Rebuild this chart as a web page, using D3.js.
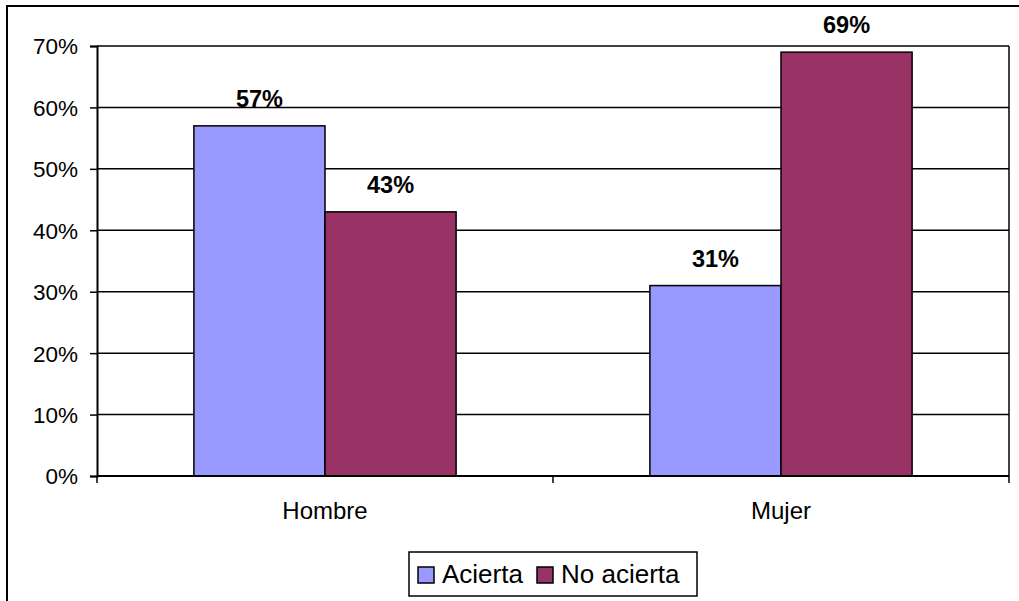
<!DOCTYPE html>
<html><head><meta charset="utf-8">
<script src="https://cdn.jsdelivr.net/npm/d3@7"></script>
<style>body{margin:0;background:#fff}svg{display:block;font-family:"Liberation Sans",Arial,sans-serif}</style>
</head><body>
<svg id="c" width="1019" height="601"></svg>
<script>
const categories = ["Hombre", "Mujer"];
const seriesNames = ["Acierta", "No acierta"];
const acierta = [57, 31];
const noAcierta = [43, 69];
const yTicks = [0, 10, 20, 30, 40, 50, 60, 70];
const colors = ["#9999FF", "#993366"];

const series = [acierta, noAcierta];
const svg = d3.select("#c");
const L = 97, R = 1009, T = 46, B = 476;

svg.append("rect").attr("x", 7).attr("y", 6).attr("width", 1030).attr("height", 620)
  .attr("fill", "#fff").attr("stroke", "#000").attr("stroke-width", 2);

const y = d3.scaleLinear().domain([0, 70]).range([B, T]);
const x0 = d3.scaleBand().domain(categories).range([L, R]).paddingInner(0).paddingOuter(0);
const groupW = x0.bandwidth() * 0.575;
const x1 = d3.scaleBand().domain(seriesNames).range([0, groupW]);

// gridlines
svg.append("g").selectAll("line").data(yTicks.filter(d => d > 0)).join("line")
  .attr("x1", L).attr("x2", R).attr("y1", d => y(d)).attr("y2", d => y(d))
  .attr("stroke", "#000").attr("stroke-width", 1.5);

// right border of plot
svg.append("line").attr("x1", R).attr("x2", R).attr("y1", T).attr("y2", B)
  .attr("stroke", "#000").attr("stroke-width", 1.5);

// bars
categories.forEach((c, ci) => {
  const gx = x0(c) + (x0.bandwidth() - groupW) / 2;
  seriesNames.forEach((s, si) => {
    const v = series[si][ci];
    svg.append("rect")
      .attr("x", gx + x1(s)).attr("y", y(v))
      .attr("width", x1.bandwidth()).attr("height", B - y(v))
      .attr("fill", colors[si]).attr("stroke", "#000").attr("stroke-width", 1.5);
    svg.append("text")
      .attr("x", gx + x1(s) + x1.bandwidth() / 2).attr("y", y(v) - 19)
      .attr("text-anchor", "middle").attr("font-size", 23.5).attr("font-weight", "bold")
      .text(v + "%");
  });
});

// y axis
const yAxis = d3.axisLeft(y).tickValues(yTicks).tickFormat(d => d + "%").tickSize(7).tickPadding(12);
const gy = svg.append("g").attr("transform", `translate(${L},0)`).call(yAxis);
gy.selectAll("text").attr("font-size", 22.5).attr("font-family", "Liberation Sans, Arial, sans-serif").attr("fill", "#000").attr("dy", "0.35em");
gy.selectAll("line").attr("stroke", "#000").attr("stroke-width", 1.5);
gy.select(".domain").attr("stroke", "#000").attr("stroke-width", 2);

// x axis
svg.append("line").attr("x1", L).attr("x2", R).attr("y1", B).attr("y2", B).attr("stroke", "#000").attr("stroke-width", 2);
const xTickPos = [L, ...categories.map(c => x0(c) + x0.bandwidth())];
svg.append("g").selectAll("line").data(xTickPos).join("line")
  .attr("x1", d => d).attr("x2", d => d).attr("y1", B).attr("y2", B + 7)
  .attr("stroke", "#000").attr("stroke-width", 1.5);
svg.append("g").selectAll("text").data(categories).join("text")
  .attr("x", d => x0(d) + x0.bandwidth() / 2).attr("y", 519)
  .attr("text-anchor", "middle").attr("font-size", 24).text(d => d);

// legend
const lg = svg.append("g");
lg.append("rect").attr("x", 409).attr("y", 552).attr("width", 288).attr("height", 44)
  .attr("fill", "#fff").attr("stroke", "#000").attr("stroke-width", 1.5);
const legX = [418, 537];
seriesNames.forEach((s, i) => {
  lg.append("rect").attr("x", legX[i]).attr("y", 567).attr("width", 16).attr("height", 16)
    .attr("fill", colors[i]).attr("stroke", "#000").attr("stroke-width", 1.5);
  lg.append("text").attr("x", legX[i] + 24).attr("y", 583).attr("font-size", 26).text(s);
});
</script>
</body></html>
